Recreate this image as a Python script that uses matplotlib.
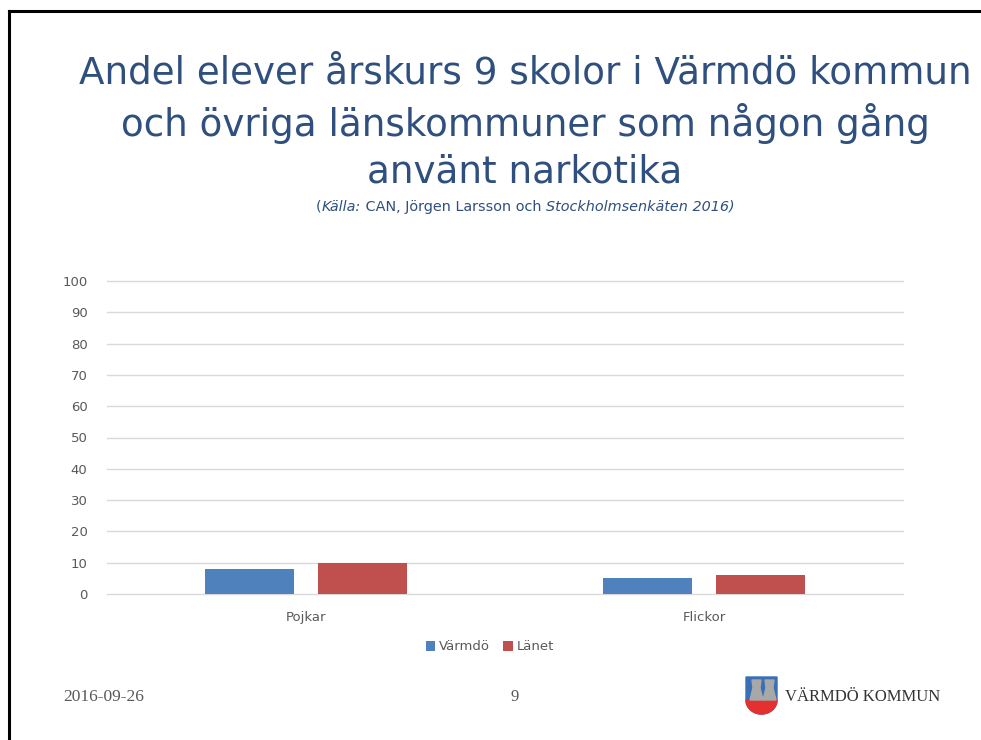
import matplotlib
matplotlib.use("Agg")
import matplotlib.pyplot as plt
import numpy as np
from matplotlib.patches import Polygon
from matplotlib.lines import Line2D

categories = ["Pojkar", "Flickor"]
series_names = ["Värmdö", "Länet"]
varmdo = [8, 5]
lanet = [10, 6]
yticks = [0, 10, 20, 30, 40, 50, 60, 70, 80, 90, 100]

blue = "#4F81BD"
red = "#C0504D"
gray_txt = "#595959"
title_col = "#2F4F7F"

W, H = 981, 740
fig = plt.figure(figsize=(W / 100, H / 100), dpi=100)
fig.patch.set_facecolor("white")

# slide border (left and top)
fig.add_artist(Line2D([9 / W, 9 / W], [0, 1 - 11 / H], color="black", lw=2.2, transform=fig.transFigure))
fig.add_artist(Line2D([9 / W, 1], [1 - 11 / H, 1 - 11 / H], color="black", lw=2.2, transform=fig.transFigure))

# title
title_lines = ["Andel elever årskurs 9 skolor i Värmdö kommun",
               "och övriga länskommuner som någon gång",
               "använt narkotika"]
for line, yy in zip(title_lines, [73, 124, 172]):
    fig.text(525 / W, 1 - yy / H, line, ha="center", va="center", fontsize=26.8,
             color=title_col, family="DejaVu Sans")

# subtitle with italic pieces
pieces = [("(", "normal"), ("Källa:", "italic"), (" CAN, Jörgen Larsson och ", "normal"),
          ("Stockholmsenkäten 2016)", "italic")]
sub_y = 1 - 211 / H
fig.canvas.draw()
renderer = fig.canvas.get_renderer()
texts = []
for s, st in pieces:
    t = fig.text(0, sub_y, s, ha="left", va="baseline", fontsize=10.4, style=st,
                 color=title_col, family="DejaVu Sans")
    texts.append(t)
widths = [t.get_window_extent(renderer).width for t in texts]
total = sum(widths)
x0 = 525 - total / 2
for t, w in zip(texts, widths):
    t.set_x(x0 / W)
    x0 += w

# axes
ax = fig.add_axes([107 / W, 1 - 594 / H, (903 - 107) / W, (594 - 281) / H])
x = np.arange(len(categories))
bw = 0.224
off = 0.142
ax.bar(x - off, varmdo, bw, color=blue, label=series_names[0], zorder=3)
ax.bar(x + off, lanet, bw, color=red, label=series_names[1], zorder=3)
ax.set_xlim(-0.5, len(categories) - 0.5)
ax.set_ylim(0, 100)
ax.set_yticks(yticks)
ax.set_xticks(x)
ax.set_xticklabels(categories)
ax.grid(axis="y", color="#D9D9D9", lw=1, zorder=0)
ax.set_axisbelow(True)
for sp in ax.spines.values():
    sp.set_visible(False)
ax.tick_params(axis="both", length=0, colors=gray_txt, labelsize=9.5)
ax.tick_params(axis="y", pad=14)
ax.tick_params(axis="x", pad=12)
for gl in ax.get_ygridlines():
    gl.set_clip_on(False)

fig.legend(loc="center", bbox_to_anchor=(490 / W, 1 - 647 / H), ncol=2, frameon=False,
           fontsize=9.5, handlelength=0.7, handleheight=0.7, handletextpad=0.3,
           columnspacing=1.0, labelcolor=gray_txt)

# footer
fig.text(63 / W, 1 - 697 / H, "2016-09-26", ha="left", va="center", fontsize=12.5,
         color=gray_txt, family="Liberation Serif")
fig.text(515 / W, 1 - 697 / H, "9", ha="center", va="center", fontsize=12,
         color=gray_txt, family="Liberation Serif")
fig.text(785 / W, 1 - 697 / H, "VÄRMDÖ KOMMUN", ha="left", va="center", fontsize=12,
         color="#333333", family="Liberation Serif")

# logo shield
def fp(px, py):
    return (px / W, 1 - py / H)
sx0, sx1, sy0, sy1 = 746, 777, 677, 714
theta = np.linspace(0, np.pi, 30)
cx, cy, rx, ry = (sx0 + sx1) / 2, 700, (sx1 - sx0) / 2, sy1 - 700
outline = [fp(sx0, sy0), fp(sx1, sy0), fp(sx1, cy)] + \
    [fp(cx + rx * np.cos(t), cy + ry * np.sin(t)) for t in theta] + [fp(sx0, cy)]
fig.add_artist(Polygon(outline, closed=True, color="#3A6FB5", transform=fig.transFigure))
red_pts = [fp(sx1, 700), fp(sx1, cy)] + \
    [fp(cx + rx * np.cos(t), cy + ry * np.sin(t)) for t in theta] + [fp(sx0, cy), fp(sx0, 700)]
fig.add_artist(Polygon(red_pts, closed=True, color="#E53030", transform=fig.transFigure))
# towers
for tx in [752, 765]:
    fig.add_artist(Polygon([fp(tx, 680), fp(tx + 9, 680), fp(tx + 8, 688), fp(tx + 11, 700),
                            fp(tx - 2, 700), fp(tx + 1, 688)],
                           closed=True, color="#A8A8A8", transform=fig.transFigure))

fig.savefig("out.png", dpi=100, facecolor="white")
